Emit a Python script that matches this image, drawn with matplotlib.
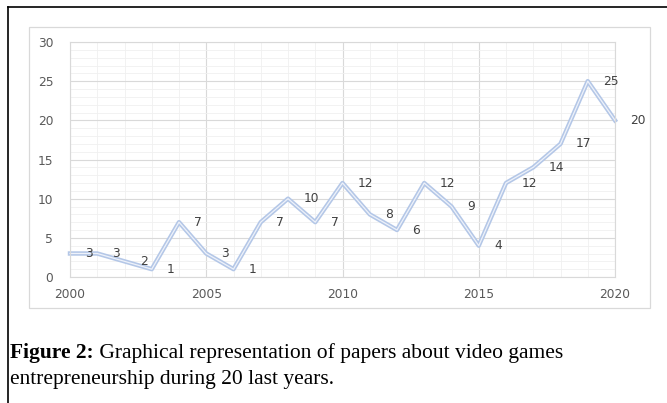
import matplotlib
matplotlib.use("Agg")
import matplotlib.pyplot as plt
from matplotlib.patches import Rectangle
from matplotlib.lines import Line2D
from matplotlib.ticker import MultipleLocator

years = list(range(2000, 2021))
papers = [3, 3, 2, 1, 7, 3, 1, 7, 10, 7, 12, 8, 6, 12, 9, 4, 12, 14, 17, 25, 20]
x_ticks = [2000, 2005, 2010, 2015, 2020]
y_ticks = [0, 5, 10, 15, 20, 25, 30]

caption_bold = "Figure 2:"
caption_rest = " Graphical representation of papers about video games"
caption_line2 = "entrepreneurship during 20 last years."

TEXT = "#595959"
MAJOR = "#d9d9d9"
MINOR = "#f0f0f0"

fig = plt.figure(figsize=(6.67, 4.03), dpi=100)
fig.patch.set_facecolor("white")

# page frame: left and top rules
fig.add_artist(Line2D([8 / 667, 8 / 667], [0, 1 - 7 / 403], color="black", lw=1.2))
fig.add_artist(Line2D([8 / 667, 1], [1 - 7 / 403, 1 - 7 / 403], color="black", lw=1.2))

# chart area outline
fig.add_artist(Rectangle((29 / 667, 1 - 308 / 403), 621 / 667, 281 / 403,
                         transform=fig.transFigure, facecolor="none",
                         edgecolor=MAJOR, lw=0.9))

ax = fig.add_axes([70 / 667, 1 - 277 / 403, 545 / 667, 235 / 403])
ax.set_xlim(2000, 2020)
ax.set_ylim(0, 30)
ax.set_xticks(x_ticks)
ax.set_yticks(y_ticks)
ax.xaxis.set_minor_locator(MultipleLocator(1))
ax.yaxis.set_minor_locator(MultipleLocator(1))
ax.grid(which="minor", color=MINOR, lw=0.6)
ax.grid(which="major", color=MAJOR, lw=0.8)
ax.set_axisbelow(True)
for spine in ax.spines.values():
    spine.set_color(MAJOR)
    spine.set_linewidth(0.8)
ax.tick_params(which="both", length=0, labelsize=8.8, labelcolor=TEXT)
ax.tick_params(axis="y", pad=12)
ax.tick_params(axis="x", pad=8)

# double-stroke line
ax.plot(years, papers, color="#b4c7e7", lw=3.2, solid_joinstyle="round", clip_on=False)
ax.plot(years, papers, color="#eef2fa", lw=0.9, solid_joinstyle="round", clip_on=False)

for yr, val in zip(years, papers):
    ax.annotate(str(val), (yr, val), xytext=(11, 0), textcoords="offset points",
                ha="left", va="center", fontsize=8.8, color="#404040",
                annotation_clip=False)

serif = ["Liberation Serif", "DejaVu Serif"]
cap_size = 15.5
t1 = fig.text(10 / 667, 1 - 358 / 403, caption_bold, fontsize=cap_size,
              fontweight="bold", family=serif, color="black", va="baseline")
fig.canvas.draw()
bb = t1.get_window_extent()
fig.text(bb.x1 / (fig.dpi * fig.get_figwidth()), 1 - 358 / 403, caption_rest,
         fontsize=cap_size, family=serif, color="black", va="baseline")
fig.text(10 / 667, 1 - 384 / 403, caption_line2, fontsize=cap_size, family=serif,
         color="black", va="baseline")

fig.savefig("out.png", dpi=100, facecolor=fig.get_facecolor())
